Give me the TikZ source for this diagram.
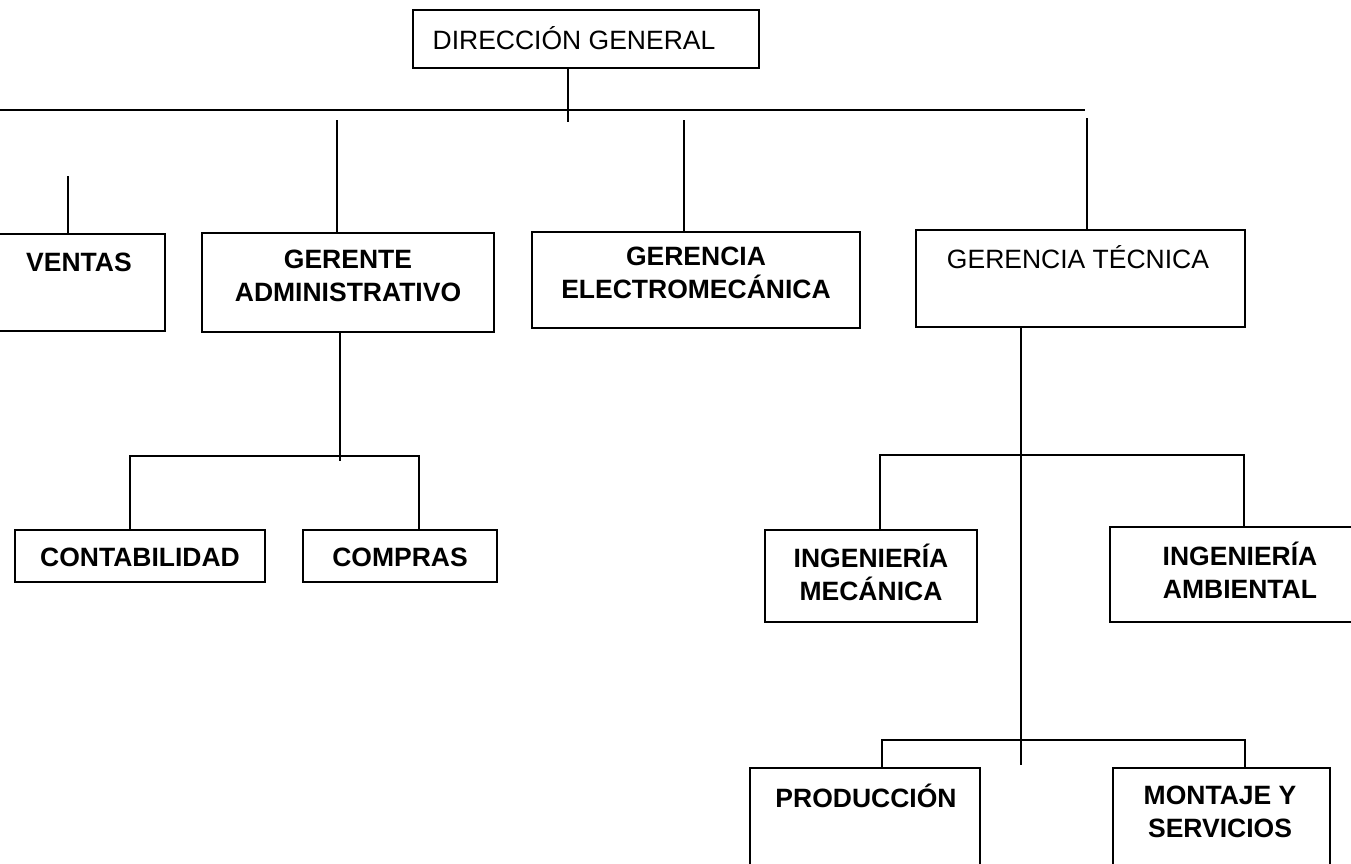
\documentclass[tikz,border=0pt]{standalone}
\usepackage{fontspec}
\setmainfont{Liberation Sans}
\begin{document}
\begin{tikzpicture}[x=1pt,y=-1pt,
  box/.style={draw, line width=1.4pt, inner sep=0pt, outer sep=0pt},
  lbl/.style={font=\fontsize{26.5}{33}\selectfont\bfseries, align=center, inner sep=0pt},
  lblr/.style={font=\fontsize{26.5}{33}\selectfont, align=center, inner sep=0pt},
  conn/.style={line width=1.4pt}]
\useasboundingbox (0,0) rectangle (1351,863);
\clip (0,0) rectangle (1351,863);
% boxes
\node[box, minimum width=346pt, minimum height=58pt] (dg) at (586,39) {};
\node[lblr] (dgt) at (574,38) {DIRECCIÓN GENERAL};
\node[box, minimum width=170pt, minimum height=97pt] (ve) at (80,282.5) {};
\node[lbl] (vet) at (79,262) {VENTAS};
\node[box, minimum width=292pt, minimum height=99pt] (ga) at (348,282.5) {};
\node[lbl] (gat) at (348,276) {GERENTE\\ADMINISTRATIVO};
\node[box, minimum width=328pt, minimum height=96pt] (el) at (696,280) {};
\node[lbl] (elt) at (696,273) {GERENCIA\\ELECTROMECÁNICA};
\node[box, minimum width=329pt, minimum height=97pt] (te) at (1080.5,278.5) {};
\node[lblr] (tet) at (1078,257) {GERENCIA TÉCNICA};
\node[box, minimum width=250pt, minimum height=52pt] (co) at (140,556) {};
\node[lbl] (cot) at (140,557) {CONTABILIDAD};
\node[box, minimum width=194pt, minimum height=52pt] (cp) at (400,556) {};
\node[lbl] (cpt) at (400,557) {COMPRAS};
\node[box, minimum width=212pt, minimum height=92pt] (im) at (871,576) {};
\node[lbl] (imt) at (871,572) {INGENIERÍA\\MECÁNICA};
\node[box, minimum width=250pt, minimum height=95pt] (ia) at (1235,574.5) {};
\node[lbl] (iat) at (1240,570) {INGENIERÍA\\AMBIENTAL};
\node[box, minimum width=230pt, minimum height=112pt] (pr) at (865,824) {};
\node[lbl] (prt) at (866,796) {PRODUCCIÓN};
\node[box, minimum width=217pt, minimum height=112pt] (mo) at (1221.5,824) {};
\node[lbl] (mot) at (1220,812) {MONTAJE Y\\SERVICIOS};
% coordinates
\coordinate (busL) at (0,110);
\coordinate (busR) at (1085,110);
\coordinate (dgj) at (568,122);
\coordinate (vej) at (68,176);
\coordinate (gaj) at (337,120);
\coordinate (elj) at (684,120);
\coordinate (tej) at (1087,118);
\coordinate (gab) at (340,461);
\coordinate (gal) at (130,456);
\coordinate (gar) at (419,456);
\coordinate (teb) at (1021,765);
\coordinate (t1l) at (880,455);
\coordinate (t1r) at (1244,455);
\coordinate (t2l) at (882,740);
\coordinate (t2r) at (1245,740);
% connectors
\draw[conn] (busL) -- (busR);
\draw[conn] (dg.south -| dgj) -- (dgj);
\draw[conn] (vej) -- (ve.north -| vej);
\draw[conn] (gaj) -- (ga.north -| gaj);
\draw[conn] (elj) -- (el.north -| elj);
\draw[conn] (tej) -- (te.north -| tej);
\draw[conn] (ga.south -| gab) -- (gab);
\draw[conn] (co.north -| gal) -- (gal) -- (gar) -- (cp.north -| gar);
\draw[conn] (te.south -| teb) -- (teb);
\draw[conn] (im.north -| t1l) -- (t1l) -- (t1r) -- (ia.north -| t1r);
\draw[conn] (pr.north -| t2l) -- (t2l) -- (t2r) -- (mo.north -| t2r);
\end{tikzpicture}
\end{document}
